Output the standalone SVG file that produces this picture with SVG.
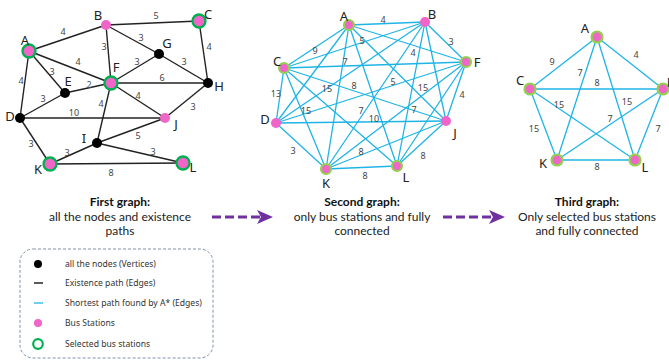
<svg xmlns="http://www.w3.org/2000/svg" width="669" height="362" viewBox="0 0 669 362">
<defs>
<style>
text{font-family:"Noto Sans","Open Sans","Liberation Sans",sans-serif}
.bk line{stroke:#222;stroke-width:1.4}
.bl line{stroke:#1fb4e6;stroke-width:1.3}
.nl{font-size:13px;fill:#222;text-anchor:middle}
.el{font-size:9px;fill:#444;text-anchor:middle}
.blk{fill:#000}
.pk{fill:#f065c8}
.sel{fill:#f065c8;stroke:#00b050;stroke-width:2.3}
.sel2{fill:#f065c8;stroke:#92d050;stroke-width:2.2}
.cap{font-family:Lato,"Noto Sans",sans-serif;font-size:12px;fill:#222;text-anchor:middle}
.capb{font-family:Lato,"Noto Sans",sans-serif;font-size:12px;fill:#111;font-weight:bold;text-anchor:middle}
.lg{font-size:8.6px;fill:#333}
.arr{stroke:#7030a0;stroke-width:3.2;stroke-dasharray:9 4;fill:none}
</style>
</defs>
<rect width="669" height="362" fill="#fff"/>

<!-- First graph connectors -->
<g id="edges1" class="bk">
<line x1="29" y1="51" x2="106" y2="25"/>
<line x1="106" y1="25" x2="199" y2="21"/>
<line x1="106" y1="25" x2="111" y2="83"/>
<line x1="106" y1="25" x2="159" y2="54"/>
<line x1="199" y1="21" x2="208" y2="83"/>
<line x1="29" y1="51" x2="111" y2="83"/>
<line x1="29" y1="51" x2="65" y2="93"/>
<line x1="29" y1="51" x2="20" y2="118"/>
<line x1="159" y1="54" x2="111" y2="83"/>
<line x1="159" y1="54" x2="208" y2="83"/>
<line x1="111" y1="83" x2="208" y2="83"/>
<line x1="65" y1="93" x2="111" y2="83"/>
<line x1="20" y1="118" x2="65" y2="93"/>
<line x1="20" y1="118" x2="165" y2="118"/>
<line x1="111" y1="83" x2="165" y2="118"/>
<line x1="208" y1="83" x2="165" y2="118"/>
<line x1="111" y1="83" x2="97" y2="143"/>
<line x1="97" y1="143" x2="165" y2="118"/>
<line x1="20" y1="118" x2="50" y2="164"/>
<line x1="50" y1="164" x2="97" y2="143"/>
<line x1="97" y1="143" x2="183" y2="163"/>
<line x1="50" y1="164" x2="183" y2="163"/>
</g>
<g id="labels1">
<text class="el" x="63" y="35">4</text>
<text class="el" x="156" y="19">5</text>
<text class="el" x="104" y="50">3</text>
<text class="el" x="141" y="41">3</text>
<text class="el" x="209" y="50">4</text>
<text class="el" x="78" y="65">4</text>
<text class="el" x="52" y="75">3</text>
<text class="el" x="137" y="65">3</text>
<text class="el" x="184" y="65">3</text>
<text class="el" x="162" y="81">6</text>
<text class="el" x="89" y="88" style="fill:#44546a">2</text>
<text class="el" x="21" y="84">4</text>
<text class="el" x="43" y="102">3</text>
<text class="el" x="138" y="99">4</text>
<text class="el" x="193" y="110">3</text>
<text class="el" x="74" y="116">10</text>
<text class="el" x="101" y="107">4</text>
<text class="el" x="138" y="139">5</text>
<text class="el" x="31" y="147">3</text>
<text class="el" x="67" y="156">3</text>
<text class="el" x="153" y="155">3</text>
<text class="el" x="111" y="176">8</text>
</g>
<g id="g1A"><circle class="sel" cx="29" cy="51" r="6.5"/><text class="nl" x="25" y="45">A</text></g>
<g id="g1B"><circle class="pk" cx="106" cy="25" r="5"/><text class="nl" x="98" y="20">B</text></g>
<g id="g1C"><circle class="sel" cx="199" cy="21" r="6.5"/><text class="nl" x="208" y="19">C</text></g>
<g id="g1G"><circle class="blk" cx="159" cy="54" r="5"/><text class="nl" x="167" y="48">G</text></g>
<g id="g1F"><circle class="sel" cx="111" cy="83" r="6.5"/><text class="nl" x="116" y="72">F</text></g>
<g id="g1H"><circle class="blk" cx="208" cy="83" r="5"/><text class="nl" x="219" y="91">H</text></g>
<g id="g1E"><circle class="blk" cx="65" cy="93" r="5"/><text class="nl" x="68" y="86">E</text></g>
<g id="g1D"><circle class="blk" cx="20" cy="118" r="5"/><text class="nl" x="10" y="121">D</text></g>
<g id="g1J"><circle class="pk" cx="165" cy="118" r="5"/><text class="nl" x="176" y="129">J</text></g>
<g id="g1I"><circle class="blk" cx="97" cy="143" r="5"/><text class="nl" x="84" y="143">I</text></g>
<g id="g1K"><circle class="sel" cx="50" cy="164" r="6.5"/><text class="nl" x="38" y="174">K</text></g>
<g id="g1L"><circle class="sel" cx="183" cy="163" r="6.5"/><text class="nl" x="193" y="172">L</text></g>

<!-- Second graph connectors -->
<g id="edges2" class="bl">
<line x1="349" y1="25" x2="425" y2="22"/>
<line x1="349" y1="25" x2="284" y2="68"/>
<line x1="349" y1="25" x2="466" y2="62"/>
<line x1="349" y1="25" x2="276" y2="123"/>
<line x1="349" y1="25" x2="446" y2="121"/>
<line x1="349" y1="25" x2="326" y2="169"/>
<line x1="349" y1="25" x2="397" y2="166"/>
<line x1="425" y1="22" x2="284" y2="68"/>
<line x1="425" y1="22" x2="466" y2="62"/>
<line x1="425" y1="22" x2="276" y2="123"/>
<line x1="425" y1="22" x2="446" y2="121"/>
<line x1="425" y1="22" x2="326" y2="169"/>
<line x1="425" y1="22" x2="397" y2="166"/>
<line x1="284" y1="68" x2="466" y2="62"/>
<line x1="284" y1="68" x2="276" y2="123"/>
<line x1="284" y1="68" x2="446" y2="121"/>
<line x1="284" y1="68" x2="326" y2="169"/>
<line x1="284" y1="68" x2="397" y2="166"/>
<line x1="466" y1="62" x2="276" y2="123"/>
<line x1="466" y1="62" x2="446" y2="121"/>
<line x1="466" y1="62" x2="326" y2="169"/>
<line x1="466" y1="62" x2="397" y2="166"/>
<line x1="276" y1="123" x2="446" y2="121"/>
<line x1="276" y1="123" x2="326" y2="169"/>
<line x1="446" y1="121" x2="326" y2="169"/>
<line x1="446" y1="121" x2="397" y2="166"/>
<line x1="326" y1="169" x2="397" y2="166"/>
</g>
<g id="labels2">
<text class="el" x="383" y="23">4</text>
<text class="el" x="315" y="54">9</text>
<text class="el" x="362" y="44">5</text>
<text class="el" x="451" y="45">3</text>
<text class="el" x="345" y="65">7</text>
<text class="el" x="413" y="56">4</text>
<text class="el" x="276" y="97">13</text>
<text class="el" x="327" y="92">15</text>
<text class="el" x="354" y="89">8</text>
<text class="el" x="393" y="85">5</text>
<text class="el" x="423" y="91">15</text>
<text class="el" x="462" y="98">4</text>
<text class="el" x="306" y="114">15</text>
<text class="el" x="361" y="114">7</text>
<text class="el" x="414" y="113">7</text>
<text class="el" x="374" y="122">10</text>
<text class="el" x="293" y="154">3</text>
<text class="el" x="361" y="155">8</text>
<text class="el" x="423" y="159">8</text>
<text class="el" x="365" y="179">8</text>
</g>
<g id="g2A"><circle class="sel2" cx="349" cy="25" r="5"/><text class="nl" x="344" y="21">A</text></g>
<g id="g2B"><circle class="pk" cx="425" cy="22" r="5"/><text class="nl" x="432" y="19">B</text></g>
<g id="g2C"><circle class="sel2" cx="284" cy="68" r="5"/><text class="nl" x="277" y="66">C</text></g>
<g id="g2F"><circle class="sel2" cx="466" cy="62" r="5"/><text class="nl" x="477" y="67">F</text></g>
<g id="g2D"><circle class="pk" cx="276" cy="123" r="5"/><text class="nl" x="265" y="124">D</text></g>
<g id="g2J"><circle class="pk" cx="446" cy="121" r="5"/><text class="nl" x="455" y="138">J</text></g>
<g id="g2K"><circle class="sel2" cx="326" cy="169" r="5"/><text class="nl" x="326" y="188">K</text></g>
<g id="g2L"><circle class="sel2" cx="397" cy="166" r="5"/><text class="nl" x="406" y="182">L</text></g>

<!-- Third graph connectors -->
<g id="edges3" class="bl">
<line x1="597" y1="37" x2="530" y2="89"/>
<line x1="597" y1="37" x2="663" y2="89"/>
<line x1="597" y1="37" x2="557" y2="160"/>
<line x1="597" y1="37" x2="635" y2="160"/>
<line x1="530" y1="89" x2="663" y2="89"/>
<line x1="530" y1="89" x2="557" y2="160"/>
<line x1="530" y1="89" x2="635" y2="160"/>
<line x1="663" y1="89" x2="557" y2="160"/>
<line x1="663" y1="89" x2="635" y2="160"/>
<line x1="557" y1="160" x2="635" y2="160"/>
</g>
<g id="labels3">
<text class="el" x="552" y="65">9</text>
<text class="el" x="636" y="58">4</text>
<text class="el" x="580" y="76">7</text>
<text class="el" x="597" y="86">8</text>
<text class="el" x="559" y="108">15</text>
<text class="el" x="627" y="105">15</text>
<text class="el" x="610" y="122">7</text>
<text class="el" x="534" y="132">15</text>
<text class="el" x="658" y="132">7</text>
<text class="el" x="597" y="170">8</text>
</g>
<g id="g3A"><circle class="sel2" cx="597" cy="37" r="5.5"/><text class="nl" x="585" y="33">A</text></g>
<g id="g3C"><circle class="sel2" cx="530" cy="89" r="5.5"/><text class="nl" x="520" y="85">C</text></g>
<g id="g3F"><circle class="sel2" cx="663" cy="89" r="5.5"/><text class="nl" x="670" y="87">F</text></g>
<g id="g3K"><circle class="sel2" cx="557" cy="160" r="5.5"/><text class="nl" x="543" y="168">K</text></g>
<g id="g3L"><circle class="sel2" cx="635" cy="160" r="5.5"/><text class="nl" x="645" y="172">L</text></g>

<!-- Captions -->
<g id="cap1">
<text class="capb" x="120" y="206">First graph:</text>
<text class="cap" x="120" y="220.5">all the nodes and existence</text>
<text class="cap" x="120" y="235">paths</text>
</g>
<g id="cap2">
<text class="capb" x="362" y="206">Second graph:</text>
<text class="cap" x="362" y="220.5">only bus stations and fully</text>
<text class="cap" x="362" y="235">connected</text>
</g>
<g id="cap3">
<text class="capb" x="587" y="206">Third graph:</text>
<text class="cap" x="587" y="220.5">Only selected bus stations</text>
<text class="cap" x="587" y="235">and fully connected</text>
</g>

<!-- Arrows -->
<g id="arrows">
<line class="arr" x1="212" y1="217" x2="262" y2="217"/>
<polygon points="257,210 273,217 257,224 261,217" fill="#7030a0"/>
<line class="arr" x1="443" y1="217" x2="493" y2="217"/>
<polygon points="489,210 505,217 489,224 493,217" fill="#7030a0"/>
</g>

<!-- Legend -->
<g id="legend">
<rect x="20" y="249" width="193" height="109" rx="13" fill="none" stroke="#6f86a6" stroke-width="0.9" stroke-dasharray="3 2"/>
<circle cx="38" cy="264" r="4" fill="#000"/>
<text class="lg" x="65" y="267">all the nodes (Vertices)</text>
<line x1="34" y1="283" x2="43" y2="283" stroke="#000" stroke-width="1.3"/>
<text class="lg" x="65" y="286">Existence path (Edges)</text>
<line x1="34" y1="303" x2="43" y2="303" stroke="#1fb4e6" stroke-width="1.3"/>
<text class="lg" x="65" y="306">Shortest path found by A* (Edges)</text>
<circle cx="38" cy="323" r="4" fill="#f065c8"/>
<text class="lg" x="65" y="326">Bus Stations</text>
<circle cx="38" cy="344" r="4.8" fill="none" stroke="#00b050" stroke-width="2.2"/>
<text class="lg" x="65" y="347">Selected bus stations</text>
</g>
</svg>
